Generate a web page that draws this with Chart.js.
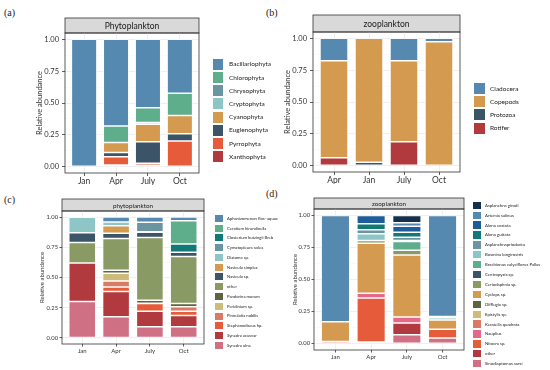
<!DOCTYPE html>
<html>
<head>
<meta charset="utf-8">
<script src="https://cdn.jsdelivr.net/npm/chart.js@4.4.0/dist/chart.umd.min.js"></script>
<style>
    html, body { margin: 0; padding: 0; background: #fff; }
    body { width: 550px; height: 370px; position: relative; overflow: hidden; font-family: Lato, sans-serif; }
    canvas { position: absolute; }
    .tag { position: absolute; font-family: "Liberation Serif", serif; font-size: 10px; color: #222; }
    .key { position: absolute; }
    .key-text { position: absolute; white-space: nowrap; color: #222; font-family: Lato, sans-serif; }
</style>
</head>
<body>
<div class="tag" style="left:4px;top:7px">(a)</div>
<div class="tag" style="left:266px;top:7px">(b)</div>
<div class="tag" style="left:4px;top:194px">(c)</div>
<div class="tag" style="left:266px;top:188px">(d)</div>
<canvas id="chartA" width="275" height="190" style="left:0;top:0"></canvas>
<canvas id="chartB" width="275" height="190" style="left:275px;top:0"></canvas>
<canvas id="chartC" width="275" height="185" style="left:0;top:185px"></canvas>
<canvas id="chartD" width="275" height="185" style="left:275px;top:185px"></canvas>
<script>
// --- DATA ---
// (a) phytoplankton by phylum, columns follow phylaMonths
const phylaMonths = ['Jan', 'Apr', 'July', 'Oct'];
const phyla = ['Bacillariophyta', 'Chlorophyta', 'Chrysophyta', 'Cryptophyta', 'Cyanophyta', 'Euglenophyta', 'Pyrrophyta', 'Xanthophyta'];
const phylaColors = ['#5589b0', '#5eae8c', '#6b95a0', '#8ec5c6', '#d39a50', '#3c5468', '#e65c3a', '#b03a3e'];
const phylaShares = [
    [1.000, 0.681, 0.538, 0.423],
    [0.000, 0.129, 0.116, 0.176],
    [0.000, 0.000, 0.000, 0.000],
    [0.000, 0.000, 0.013, 0.000],
    [0.000, 0.078, 0.138, 0.143],
    [0.000, 0.034, 0.168, 0.056],
    [0.000, 0.065, 0.017, 0.202],
    [0.000, 0.013, 0.010, 0.000]
];

// (b) zooplankton by group
const zooMonths = ['Apr', 'Jan', 'July', 'Oct'];
const zooGroups = ['Cladocera', 'Copepods', 'Protozoa', 'Rotifer'];
const zooColors = ['#5589b0', '#d39a50', '#3c5468', '#b03a3e'];
const zooShares = [
    [0.175, 0.000, 0.176, 0.027],
    [0.764, 0.973, 0.637, 0.973],
    [0.000, 0.027, 0.000, 0.000],
    [0.061, 0.000, 0.187, 0.000]
];

// (c) phytoplankton by taxon
const taxaMonths = ['Jan', 'Apr', 'July', 'Oct'];
const phytoTaxa = ['Aphanizomenon flos–aquae', 'Ceratium hirundinella', 'Closterium kutzingii Breb', 'Cymatopleura solea', 'Diatoma sp.', 'Navicula simplex', 'Navicula sp.', 'other', 'Pandorina morum', 'Peridinium sp.', 'Pinnulatia nobilis', 'Stephanodiscus hp.', 'Synedra acusvar', 'Synedra ulna'];
const phytoTaxaColors = ['#5589b0', '#5eae8c', '#117a78', '#6b95a0', '#8ec5c6', '#d39a50', '#3c5468', '#8a9a65', '#5e6440', '#cdbb7b', '#d97a66', '#e65c3a', '#b03a3e', '#cf7085'];
const phytoTaxaShares = [
    [0.000, 0.043, 0.043, 0.032],
    [0.000, 0.000, 0.000, 0.192],
    [0.000, 0.000, 0.000, 0.069],
    [0.000, 0.000, 0.079, 0.000],
    [0.129, 0.031, 0.004, 0.000],
    [0.000, 0.060, 0.000, 0.000],
    [0.081, 0.044, 0.044, 0.035],
    [0.169, 0.264, 0.518, 0.389],
    [0.000, 0.024, 0.024, 0.026],
    [0.000, 0.064, 0.004, 0.000],
    [0.000, 0.049, 0.000, 0.038],
    [0.000, 0.038, 0.063, 0.035],
    [0.319, 0.208, 0.128, 0.092],
    [0.301, 0.176, 0.093, 0.093]
];

// (d) zooplankton by taxon
const zooTaxa = ['Asplanchna girodi', 'Artemia salinus', 'Alona costata', 'Alona guttata', 'Asplanchnapriodonta', 'Bosmina longirostris', 'Brachionus calyciflorus Pallas', 'Centropyxis sp.', 'Ceriodaphnia sp.', 'Cyclops sp.', 'Difflugia sp.', 'Epistylis sp.', 'Keratella quadrata', 'Nauplius', 'Nitocra sp.', 'other', 'Sinodiaptomus sarsi'];
const zooTaxaColors = ['#14304f', '#5589b0', '#1d5d98', '#117a78', '#6b95a0', '#8ec5c6', '#5eae8c', '#3c5468', '#8a9a65', '#d39a50', '#5e6440', '#cdbb7b', '#d97a66', '#e5688a', '#e65c3a', '#b03a3e', '#cf7085'];
const zooTaxaShares = [
    [0.000, 0.000, 0.056, 0.000],
    [0.830, 0.000, 0.027, 0.789],
    [0.000, 0.064, 0.047, 0.000],
    [0.000, 0.047, 0.040, 0.000],
    [0.000, 0.031, 0.025, 0.010],
    [0.000, 0.052, 0.008, 0.017],
    [0.000, 0.000, 0.067, 0.000],
    [0.000, 0.000, 0.000, 0.000],
    [0.000, 0.022, 0.038, 0.000],
    [0.154, 0.390, 0.483, 0.073],
    [0.000, 0.000, 0.000, 0.000],
    [0.000, 0.000, 0.000, 0.000],
    [0.000, 0.000, 0.000, 0.000],
    [0.016, 0.037, 0.048, 0.000],
    [0.000, 0.343, 0.000, 0.068],
    [0.000, 0.000, 0.091, 0.000],
    [0.000, 0.013, 0.069, 0.043]
];

const majorTicks = [0, 0.25, 0.5, 0.75, 1];
const minorTicks = [0.125, 0.375, 0.625, 0.875];

// --- DRAWING ---
const ink = '#333333';

// facet strip above the panel + panel border on top of the bars
const panelFrame = {
    id: 'panelFrame',
    beforeDraw(chart, args, o) {
        const { left, right, top } = chart.chartArea;
        const ctx = chart.ctx;
        ctx.save();
        ctx.fillStyle = '#d9d9d9';
        ctx.fillRect(left, o.stripTop, right - left, top - o.stripTop);
        ctx.strokeStyle = ink;
        ctx.lineWidth = 0.8;
        ctx.strokeRect(left, o.stripTop, right - left, top - o.stripTop);
        ctx.fillStyle = '#1a1a1a';
        ctx.font = `${o.size}px Lato`;
        ctx.textAlign = 'center';
        ctx.textBaseline = 'middle';
        ctx.fillText(o.text, (left + right) / 2, (o.stripTop + top) / 2 + 0.5);
        ctx.restore();
    },
    afterDraw(chart) {
        const { left, right, top, bottom } = chart.chartArea;
        const ctx = chart.ctx;
        ctx.save();
        ctx.strokeStyle = ink;
        ctx.lineWidth = 0.8;
        ctx.strokeRect(left, top, right - left, bottom - top);
        ctx.restore();
    }
};

function drawPanel(id, p) {
    const canvas = document.getElementById(id);
    const W = canvas.width, H = canvas.height;
    // ggplot stacks the first level on top, Chart.js stacks the first dataset at the bottom
    const datasets = p.groups.map((g, k) => ({
        label: g,
        data: p.shares[k].map((v, i) => ({ x: i + 1, y: v })),
        backgroundColor: p.colors[k],
        borderColor: '#ffffff',
        borderWidth: 0.75,
        borderSkipped: false,
        barPercentage: 0.8,
        categoryPercentage: 1
    })).reverse();
    const padLeft = p.titleX - p.titleSize * 0.6;

    new Chart(canvas, {
        type: 'bar',
        data: { datasets },
        plugins: [panelFrame],
        options: {
            responsive: false,
            animation: false,
            layout: { padding: { left: padLeft, top: p.plot.t, right: W - p.plot.r, bottom: H - p.plot.b - 12 } },
            plugins: {
                legend: { display: false },
                tooltip: { enabled: false },
                panelFrame: { stripTop: p.stripTop, text: p.strip, size: p.stripSize }
            },
            scales: {
                x: {
                    type: 'linear', stacked: true, min: 0.4, max: 4.6, offset: false,
                    afterBuildTicks: s => { s.ticks = p.months.map((m, i) => ({ value: i + 1 })); },
                    afterFit: s => { s.height = 12; },
                    ticks: { callback: v => p.months[v - 1], color: ink, font: { family: 'Lato', size: p.xSize }, padding: p.xPad, maxRotation: 0, autoSkip: false },
                    grid: { offset: false, color: '#ebebeb', lineWidth: 0.8, tickColor: ink, tickLength: p.tick },
                    border: { display: false }
                },
                y: {
                    type: 'linear', stacked: true, min: -0.05, max: 1.05,
                    afterBuildTicks: s => {
                        s.ticks = majorTicks.map(v => ({ value: v })).concat(minorTicks.map(v => ({ value: v, minor: true })));
                    },
                    afterFit: s => { s.width = p.plot.l - padLeft; },
                    ticks: { callback: v => majorTicks.includes(v) ? v.toFixed(2) : '', color: ink, font: { family: 'Lato', size: p.ySize }, padding: p.yPad },
                    grid: {
                        color: c => (c.tick && c.tick.minor) ? '#f4f4f4' : '#ebebeb',
                        lineWidth: c => (c.tick && c.tick.minor) ? 0.5 : 0.8,
                        tickColor: c => (c.tick && c.tick.minor) ? 'rgba(0,0,0,0)' : ink,
                        tickLength: p.tick
                    },
                    border: { display: false },
                    title: { display: true, text: 'Relative abundance', color: ink, font: { family: 'Lato', size: p.titleSize }, padding: 0 }
                }
            }
        }
    });
}

function drawKey(groups, colors, k) {
    groups.forEach((g, i) => {
        const cy = k.y + i * k.pitch;
        const sq = document.createElement('div');
        sq.className = 'key';
        sq.style.cssText = `left:${k.x}px;top:${cy - k.sh / 2}px;width:${k.sw}px;height:${k.sh}px;background:${colors[i]}`;
        document.body.appendChild(sq);
        const t = document.createElement('div');
        t.className = 'key-text';
        t.textContent = g;
        t.style.cssText = `left:${k.tx}px;top:${cy - k.size * 0.6}px;font-size:${k.size}px;line-height:${k.size * 1.2}px`;
        document.body.appendChild(t);
    });
}

drawPanel('chartA', {
    months: phylaMonths, groups: phyla, colors: phylaColors, shares: phylaShares,
    plot: { l: 65, t: 33, r: 199, b: 173 }, stripTop: 18, strip: 'Phytoplankton', stripSize: 8.5,
    titleX: 40, titleSize: 7.5, ySize: 7.5, xSize: 8.5, tick: 3, yPad: 3, xPad: 0.5
});
drawPanel('chartB', {
    months: zooMonths, groups: zooGroups, colors: zooColors, shares: zooShares,
    plot: { l: 38, t: 32, r: 185, b: 172 }, stripTop: 15, strip: 'zooplankton', stripSize: 8.5,
    titleX: 13, titleSize: 7.5, ySize: 7.5, xSize: 8.5, tick: 3, yPad: 3, xPad: 0.5
});
drawPanel('chartC', {
    months: taxaMonths, groups: phytoTaxa, colors: phytoTaxaColors, shares: phytoTaxaShares,
    plot: { l: 62, t: 26, r: 204, b: 159 }, stripTop: 14, strip: 'phytoplankton', stripSize: 6.3,
    titleX: 42, titleSize: 6, ySize: 5.8, xSize: 6, tick: 2.5, yPad: 1.5, xPad: 0.5
});
drawPanel('chartD', {
    months: taxaMonths, groups: zooTaxa, colors: zooTaxaColors, shares: zooTaxaShares,
    plot: { l: 39, t: 24, r: 189, b: 165 }, stripTop: 13, strip: 'zooplankton', stripSize: 6.3,
    titleX: 20, titleSize: 6, ySize: 5.8, xSize: 6, tick: 2.5, yPad: 1.5, xPad: 0.5
});

drawKey(phyla, phylaColors, { x: 213, y: 64.2, pitch: 13.2, sw: 10, sh: 11, tx: 229, size: 6.5 });
drawKey(zooGroups, zooColors, { x: 474, y: 88.7, pitch: 13.1, sw: 11, sh: 11, tx: 490, size: 6.5 });
drawKey(phytoTaxa, phytoTaxaColors, { x: 215, y: 218.3, pitch: 9.77, sw: 7.5, sh: 7, tx: 227, size: 4.2 });
drawKey(zooTaxa, zooTaxaColors, { x: 473.3, y: 205.3, pitch: 9.9, sw: 7.7, sh: 7.3, tx: 485, size: 4.3 });
</script>
</body>
</html>
